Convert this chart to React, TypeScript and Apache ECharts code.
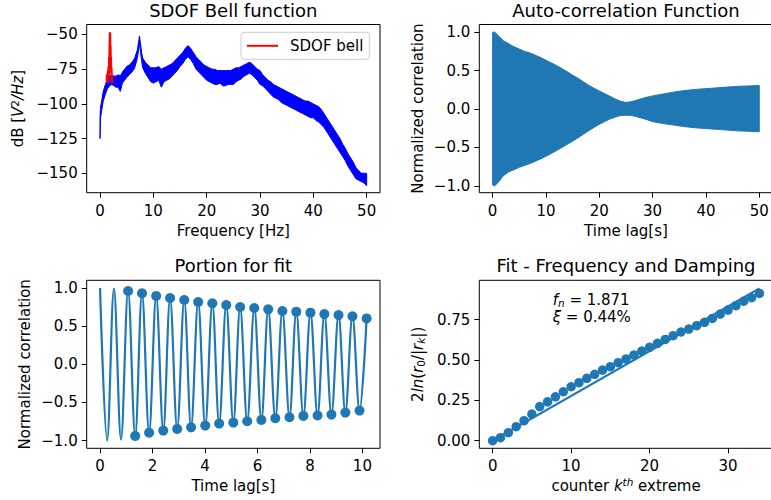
import React, { useEffect, useRef } from "react";
import * as echarts from "echarts";

// ---------- data ----------
// Top-left: PSD band (blue) – frequency [Hz], upper / lower edge of the noisy trace [dB]
const psdFreq = [0, 0.1, 0.3, 0.6, 1.0, 1.4, 1.8, 2.2, 2.6, 3.0, 3.4, 3.8, 4.2, 4.6, 5.0, 5.5, 6.0, 6.5, 7.0, 7.2, 7.4, 7.6, 7.8, 8.0,
  8.5, 9.0, 9.5, 10, 10.5, 11, 11.5, 12, 12.5, 13, 13.5, 14, 14.5, 15, 15.5, 16, 16.5, 17, 17.5, 18, 18.5, 19, 19.5, 20,
  20.5, 21, 21.5, 22, 22.5, 23, 23.5, 24, 24.5, 25, 25.5, 26, 26.5, 27, 27.5, 28, 28.5, 29, 29.5, 30, 30.5, 31, 31.5, 32,
  32.5, 33, 33.5, 34, 34.5, 35, 35.5, 36, 36.5, 37, 37.5, 38, 38.5, 39, 39.5, 40, 40.5, 41, 41.5, 42, 42.5, 43, 43.5, 44,
  44.5, 45, 45.5, 46, 46.5, 47, 47.5, 48, 48.5, 49, 49.5, 50];
const psdHigh = [-109, -102, -98, -91, -86, -82, -80, -79, -80, -80, -79, -80, -77, -75, -73, -72, -70, -67, -61, -56, -51, -57, -63, -67,
  -70, -72, -74, -74, -74, -73, -75, -74, -73, -72, -71, -69, -67, -65, -63, -60, -58, -60, -63, -66, -68, -70, -72, -73,
  -74, -75, -75, -76, -76, -76, -76, -76, -76, -75, -74, -74, -73, -72, -71, -70, -71, -73, -75, -76, -79, -81, -83, -84,
  -86, -87, -88, -89, -90, -91, -92, -93, -94, -95, -96, -97, -98, -98, -99, -100, -101, -102, -104, -107, -110, -113, -116, -119,
  -122, -125, -129, -132, -136, -139, -142, -146, -148, -150, -150, -150];
const psdLow = [-125, -110, -105, -98, -93, -89, -87, -86, -87, -88, -88, -91, -85, -83, -81, -79, -77, -74, -67, -62, -56, -63, -69, -74,
  -78, -81, -84, -85, -84, -83, -88, -84, -83, -82, -80, -78, -76, -73, -71, -68, -66, -68, -71, -75, -77, -79, -81, -83,
  -84, -85, -86, -86, -85, -87, -87, -86, -86, -86, -84, -83, -82, -80, -79, -78, -79, -81, -83, -86, -87, -89, -91, -93,
  -95, -96, -97, -99, -100, -101, -102, -103, -104, -105, -106, -107, -108, -109, -110, -110, -112, -113, -115, -117, -120, -123, -126, -129,
  -132, -135, -138, -141, -145, -148, -151, -154, -155, -156, -157, -159];
// SDOF bell (red)
const bellFreq = [1.25, 1.3, 1.35, 1.4, 1.45, 1.5, 1.55, 1.6, 1.65, 1.7, 1.75, 1.8, 1.84, 1.87, 1.9, 1.93, 1.97, 2.0, 2.05, 2.1, 2.15, 2.2, 2.25, 2.3];
const bellDb = [-84, -79, -85, -78, -84, -76, -83, -73, -80, -66, -74, -57, -50, -48.5, -52, -62, -58, -70, -66, -78, -74, -84, -80, -85];

// Top-right: auto-correlation envelope
const acfLag = [0, 0.4, 1, 2, 3, 4, 5, 6, 7, 8, 9, 10, 11, 12, 13, 14, 15, 16, 17, 18, 19, 20, 21, 22, 23, 24, 25, 26, 27, 28, 29, 30, 32, 34, 36, 38, 40, 42, 44, 46, 48, 50];
const acfUpper = [1.0, 1.0, 0.96, 0.89, 0.85, 0.81, 0.78, 0.75, 0.73, 0.70, 0.67, 0.635, 0.60, 0.565, 0.525, 0.485, 0.44, 0.40, 0.355, 0.31, 0.27, 0.235, 0.20, 0.165, 0.13, 0.10, 0.085, 0.095, 0.115, 0.135, 0.155, 0.17, 0.195, 0.22, 0.24, 0.255, 0.265, 0.275, 0.285, 0.295, 0.30, 0.305];
const acfLower = [-0.99, -1.0, -0.96, -0.87, -0.82, -0.79, -0.76, -0.735, -0.71, -0.68, -0.65, -0.615, -0.58, -0.54, -0.50, -0.46, -0.42, -0.375, -0.33, -0.285, -0.24, -0.20, -0.165, -0.13, -0.105, -0.085, -0.08, -0.085, -0.10, -0.12, -0.14, -0.165, -0.19, -0.21, -0.23, -0.245, -0.255, -0.265, -0.275, -0.285, -0.29, -0.296];

// Bottom-left: portion for fit – extremes
const startLag = [0, 0.27, 0.53, 0.80];
const startCorr = [1.0, -1.0, 0.99, -0.985];
const peakLag = [1.07, 1.60, 2.14, 2.67, 3.21, 3.74, 4.28, 4.81, 5.34, 5.88, 6.41, 6.95, 7.48, 8.02, 8.55, 9.09, 9.62, 10.16];
const peakCorr = [0.960, 0.930, 0.895, 0.868, 0.842, 0.816, 0.798, 0.777, 0.750, 0.737, 0.720, 0.698, 0.689, 0.676, 0.658, 0.645, 0.628, 0.601];
const troughLag = [1.34, 1.87, 2.41, 2.94, 3.47, 4.01, 4.54, 5.08, 5.61, 6.15, 6.68, 7.22, 7.75, 8.29, 8.82, 9.35, 9.89];
const troughCorr = [-0.938, -0.895, -0.868, -0.846, -0.825, -0.803, -0.776, -0.763, -0.746, -0.728, -0.707, -0.693, -0.676, -0.671, -0.658, -0.632, -0.606];

// Bottom-right: fit
const fitK = [0, 1, 2, 3, 4, 5, 6, 7, 8, 9, 10, 11, 12, 13, 14, 15, 16, 17, 18, 19, 20, 21, 22, 23, 24, 25, 26, 27, 28, 29, 30, 31, 32, 33, 34];
const fitValue = [0.0, 0.019, 0.05, 0.087, 0.124, 0.165, 0.211, 0.241, 0.272, 0.303, 0.334, 0.359, 0.386, 0.411, 0.437, 0.458, 0.483, 0.506, 0.530, 0.555, 0.578, 0.603, 0.627, 0.650, 0.673, 0.691, 0.712, 0.733, 0.757, 0.784, 0.809, 0.836, 0.864, 0.885, 0.912];
const fitLineK = [0, 34];
const fitLineValue = [0, 0.943];

// tick values
const psdXTicks = [0, 10, 20, 30, 40, 50];
const psdYTicks = [-150, -125, -100, -75, -50];
const acfXTicks = [0, 10, 20, 30, 40, 50];
const corrYTicks = [-1, -0.5, 0, 0.5, 1];
const portionXTicks = [0, 2, 4, 6, 8, 10];
const fitXTicks = [0, 10, 20, 30];
const fitYTicks = [0, 0.25, 0.5, 0.75];

// ---------- styling ----------
const FONT = "DejaVu Sans";
const BLUE = "#1f77b4";
const FS = 15;

const rich = {
  n: { fontSize: FS, lineHeight: 18, fontFamily: FONT, color: "#000" },
  i: { fontSize: FS, lineHeight: 18, fontFamily: FONT, fontStyle: "italic", color: "#000" },
  sub: { fontSize: 10.5, lineHeight: 8, fontFamily: FONT, verticalAlign: "bottom", color: "#000" },
  subi: { fontSize: 10.5, lineHeight: 8, fontFamily: FONT, fontStyle: "italic", verticalAlign: "bottom", color: "#000" },
  sup: { fontSize: 10.5, lineHeight: 8, fontFamily: FONT, verticalAlign: "top", color: "#000" },
  supi: { fontSize: 10.5, lineHeight: 8, fontFamily: FONT, fontStyle: "italic", verticalAlign: "top", color: "#000" },
};

const fmt = (d: number) => (v: number) => v.toFixed(d).replace("-", "\u2212");

function axis(kind: "x" | "y", gridIndex: number, min: number, max: number, ticks: number[], dec: number, name: string, nameGap: number) {
  return {
    type: "value",
    gridIndex,
    min,
    max,
    name,
    nameLocation: "middle",
    nameGap,
    nameTextStyle: { fontSize: FS, color: "#000", fontFamily: FONT, rich },
    axisLine: { show: false, onZero: false },
    splitLine: { show: false },
    axisTick: { show: true, length: 5, customValues: ticks, lineStyle: { color: "#000", width: 1 } },
    axisLabel: {
      customValues: ticks,
      formatter: fmt(dec),
      fontSize: FS,
      color: "#000",
      fontFamily: FONT,
      margin: kind === "x" ? 10.5 : 9,
    },
  };
}

const gridStyle = { show: true, borderColor: "#000", borderWidth: 1, backgroundColor: "transparent", containLabel: false, outerBoundsMode: "none" };

// a filled band between two edges, drawn through the axes' scales
function bandSeries(axisIndex: number, xs: number[], lows: number[], highs: number[], color: string) {
  return {
    type: "custom",
    coordinateSystem: "cartesian2d",
    xAxisIndex: axisIndex,
    yAxisIndex: axisIndex,
    data: xs.map((x, i) => [x, lows[i], highs[i]]),
    encode: { x: 0, y: [1, 2] },
    silent: true,
    clip: true,
    renderItem: (params: any, api: any) => {
      if (params.dataIndex !== 0) return null;
      const top = xs.map((x, i) => api.coord([x, highs[i]]));
      const bottom = xs.map((x, i) => api.coord([x, lows[i]])).reverse();
      return {
        type: "polygon",
        shape: { points: top.concat(bottom) },
        style: { fill: color, stroke: color, lineWidth: 1, lineJoin: "round" },
      };
    },
  };
}

function buildOption() {
  const pair = (xs: number[], ys: number[]) => xs.map((x, i) => [x, ys[i]]);
  const extremes = pair(startLag, startCorr)
    .concat(pair(peakLag, peakCorr))
    .concat(pair(troughLag, troughCorr))
    .sort((a, b) => a[0] - b[0]);
  const markers = pair(peakLag, peakCorr).concat(pair(troughLag, troughCorr));

  const title = (text: string, x: number, y: number) => ({
    type: "text",
    x,
    y,
    style: { text, fontSize: 18, fontFamily: FONT, fill: "#000", textAlign: "center", align: "center", textVerticalAlign: "middle", verticalAlign: "middle" },
  });
  const note = (text: string, x: number, y: number) => ({
    type: "text",
    x,
    y,
    style: { text, rich, fontSize: FS, fontFamily: FONT, fill: "#000", textAlign: "left", align: "left", textVerticalAlign: "middle", verticalAlign: "middle" },
  });

  return {
    animation: false,
    backgroundColor: "#ffffff",
    textStyle: { fontFamily: FONT },
    grid: [
      { left: 86.7, top: 24.5, width: 293.3, height: 168.2, ...gridStyle },
      { left: 479.3, top: 24.5, width: 293.3, height: 168.2, ...gridStyle },
      { left: 86.7, top: 280.3, width: 293.3, height: 168, ...gridStyle },
      { left: 479.3, top: 280.3, width: 293.5, height: 168, ...gridStyle },
    ],
    xAxis: [
      axis("x", 0, -2.5, 52.5, psdXTicks, 0, "Frequency [Hz]", 30.5),
      axis("x", 1, -2.5, 52.5, acfXTicks, 0, "Time lag[s]", 30.5),
      axis("x", 2, -0.508, 10.67, portionXTicks, 0, "Time lag[s]", 30),
      axis("x", 3, -1.7, 35.7, fitXTicks, 0, "{n|counter }{i|k}{supi|th}{n| extreme}", 28.5),
    ],
    yAxis: [
      axis("y", 0, -164, -42.8, psdYTicks, 0, "{n|dB [}{i|V}{sup|2}{i|/Hz}{n|]}", 59.4),
      axis("y", 1, -1.09, 1.1, corrYTicks, 1, "Normalized correlation", 53.5),
      axis("y", 2, -1.1, 1.1, corrYTicks, 1, "Normalized correlation", 54),
      axis("y", 3, -0.047, 0.993, fitYTicks, 2, "{n|2}{i|ln}{n|(}{i|r}{sub|0}{n|/|}{i|r}{subi|k}{n||)}", 52.5),
    ],
    legend: {
      data: ["SDOF bell"],
      left: 241,
      top: 32.3,
      icon: "rect",
      itemWidth: 31,
      itemHeight: 2,
      padding: [6, 6, 6, 6],
      borderColor: "#cccccc",
      borderWidth: 1,
      borderRadius: 3,
      backgroundColor: "rgba(255,255,255,0.8)",
      selectedMode: false,
      textStyle: { fontSize: FS, color: "#000", fontFamily: FONT, padding: [0, 0, 0, 7] },
    },
    graphic: [
      title("SDOF Bell function", 233.3, 10.5),
      title("Auto-correlation Function", 626, 10.5),
      title("Portion for fit", 233.3, 265.3),
      title("Fit - Frequency and Damping", 626, 265.3),
      note("{i|f}{subi|n}{n| = 1.871}", 552.7, 299.5),
      note("{i|\u03be}{n| = 0.44%}", 552.7, 317),
    ],
    series: [
      bandSeries(0, psdFreq, psdLow, psdHigh, "#0000ff"),
      {
        name: "SDOF bell", type: "line", xAxisIndex: 0, yAxisIndex: 0, data: pair(bellFreq, bellDb),
        symbol: "none", lineStyle: { color: "#ff0000", width: 2.2 }, itemStyle: { color: "#ff0000" }, silent: true,
      },
      bandSeries(1, acfLag, acfLower, acfUpper, BLUE),
      {
        type: "line", xAxisIndex: 2, yAxisIndex: 2, data: extremes, smooth: 0.36,
        symbol: "none", lineStyle: { color: BLUE, width: 2.2 }, itemStyle: { color: BLUE }, silent: true,
      },
      {
        type: "scatter", xAxisIndex: 2, yAxisIndex: 2, data: markers, symbol: "circle", symbolSize: 10,
        itemStyle: { color: BLUE, opacity: 1 }, silent: true,
      },
      {
        type: "scatter", xAxisIndex: 3, yAxisIndex: 3, data: pair(fitK, fitValue), symbol: "circle", symbolSize: 9.5,
        itemStyle: { color: BLUE, opacity: 1 }, silent: true,
      },
      {
        type: "line", xAxisIndex: 3, yAxisIndex: 3, data: pair(fitLineK, fitLineValue),
        symbol: "none", lineStyle: { color: BLUE, width: 2.2 }, itemStyle: { color: BLUE }, silent: true,
      },
    ],
  };
}

export default function App() {
  const ref = useRef<HTMLDivElement>(null);
  useEffect(() => {
    if (!ref.current) return;
    const chart = echarts.init(ref.current, undefined, { renderer: "svg" });
    chart.setOption(buildOption() as any);
    return () => chart.dispose();
  }, []);
  return (
    <div
      ref={ref}
      style={{ position: "absolute", left: 0, top: 0, width: 771, height: 500, background: "#fff", overflow: "hidden" }}
    />
  );
}
